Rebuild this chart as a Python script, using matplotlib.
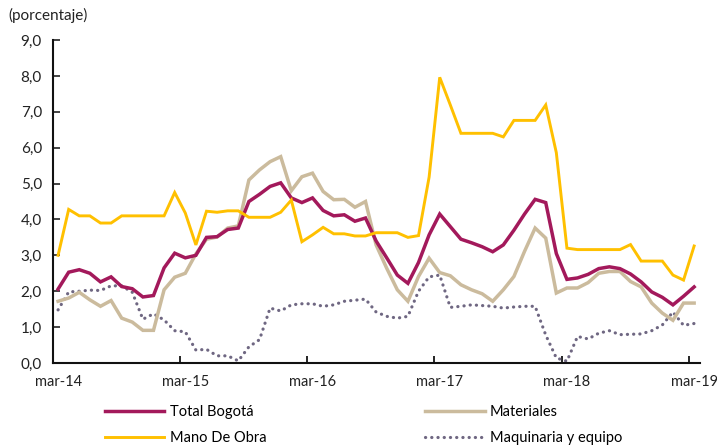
import matplotlib
matplotlib.use("Agg")
import matplotlib.pyplot as plt
import numpy as np

plt.rcParams['font.family'] = ['Lato', 'DejaVu Sans']

tick_labels = ["mar-14", "mar-15", "mar-16", "mar-17", "mar-18", "mar-19"]

total_bogota = [2.06, 2.53, 2.60, 2.50, 2.26, 2.40, 2.13, 2.07, 1.84, 1.88,
                2.65, 3.06, 2.93, 3.00, 3.50, 3.52, 3.72, 3.76, 4.50, 4.70,
                4.92, 5.02, 4.60, 4.47, 4.60, 4.25, 4.10, 4.13, 3.95, 4.04,
                3.40, 2.93, 2.45, 2.22, 2.80, 3.57, 4.15, 3.80, 3.45, 3.35,
                3.24, 3.10, 3.29, 3.70, 4.15, 4.56, 4.47, 3.05, 2.33, 2.37,
                2.47, 2.63, 2.68, 2.63, 2.48, 2.26, 1.98, 1.83, 1.62, 1.86,
                2.12]

materiales = [1.72, 1.81, 1.97, 1.76, 1.58, 1.74, 1.25, 1.14, 0.91, 0.91,
              2.04, 2.39, 2.50, 3.04, 3.45, 3.51, 3.76, 3.82, 5.10, 5.38,
              5.61, 5.75, 4.80, 5.19, 5.29, 4.78, 4.55, 4.56, 4.34, 4.50,
              3.29, 2.64, 2.04, 1.72, 2.41, 2.92, 2.52, 2.43, 2.18, 2.04,
              1.93, 1.72, 2.04, 2.41, 3.11, 3.76, 3.48, 1.95, 2.09, 2.09,
              2.24, 2.50, 2.55, 2.55, 2.27, 2.12, 1.67, 1.39, 1.19, 1.67,
              1.67]

mano_de_obra = [3.00, 4.28, 4.10, 4.10, 3.90, 3.90, 4.10, 4.10, 4.10, 4.10,
                4.10, 4.75, 4.18, 3.29, 4.23, 4.20, 4.24, 4.24, 4.06, 4.06,
                4.06, 4.20, 4.54, 3.38, 3.57, 3.78, 3.60, 3.60, 3.54, 3.54,
                3.63, 3.63, 3.63, 3.50, 3.55, 5.18, 7.96, 7.19, 6.40, 6.40,
                6.40, 6.40, 6.30, 6.76, 6.76, 6.76, 7.19, 5.86, 3.20, 3.16,
                3.16, 3.16, 3.16, 3.16, 3.30, 2.84, 2.84, 2.84, 2.45, 2.31,
                3.26]

maquinaria = [1.48, 1.98, 2.00, 2.03, 2.02, 2.15, 2.15, 1.97, 1.22, 1.37,
              1.20, 0.90, 0.87, 0.36, 0.38, 0.20, 0.20, 0.06, 0.45, 0.65,
              1.53, 1.45, 1.62, 1.65, 1.65, 1.58, 1.62, 1.72, 1.75, 1.78,
              1.42, 1.30, 1.25, 1.30, 2.00, 2.40, 2.45, 1.55, 1.58, 1.62,
              1.60, 1.58, 1.53, 1.56, 1.58, 1.58, 0.78, 0.14, 0.05, 0.74,
              0.67, 0.83, 0.90, 0.79, 0.80, 0.81, 0.90, 1.06, 1.42, 1.05,
              1.10]

x = np.arange(len(total_bogota))

fig = plt.figure(figsize=(7.17, 4.46), dpi=100)
ax = fig.add_axes([0.0739, 0.1861, 0.9025, 0.7242])

ax.plot(x, total_bogota, color="#A3195B", lw=2.5, label="Total Bogotá", zorder=4,
        solid_joinstyle="miter")
ax.plot(x, materiales, color="#CBBB9D", lw=2.5, label="Materiales", zorder=3,
        solid_joinstyle="miter")
ax.plot(x, mano_de_obra, color="#FFC000", lw=2.1, label="Mano De Obra", zorder=5,
        solid_joinstyle="miter")
ax.plot(x, maquinaria, color="#6F6782", lw=2.3, linestyle=(0, (0.05, 1.9)),
        dash_capstyle="round", label="Maquinaria y equipo", zorder=2)

ax.set_xlim(-0.48, 60.56)
ax.set_ylim(0, 9)
ax.set_yticks(np.arange(0, 10, 1))
ax.set_yticklabels([f"{v:.1f}".replace(".", ",") for v in np.arange(0, 10, 1)])
ax.set_xticks(np.arange(0, 61, 12))
ax.set_xticklabels(tick_labels)
ax.set_xticks(np.arange(11.5, 61, 12), minor=True)

ax.tick_params(axis="y", direction="in", length=5, width=1.2, labelsize=11,
               pad=8, colors="#222222")
ax.tick_params(axis="x", which="major", length=0, labelsize=10.5, pad=9,
               colors="#222222")
ax.tick_params(axis="x", which="minor", direction="in", length=5, width=1.2)

for s in ["top", "right"]:
    ax.spines[s].set_visible(False)
for s in ["left", "bottom"]:
    ax.spines[s].set_linewidth(1.5)
    ax.spines[s].set_color("#111111")

fig.text(0.011, 0.965, "(porcentaje)", fontsize=11, color="#222222",
         ha="left", va="center")

handles, labels = ax.get_legend_handles_labels()
order = [0, 2, 1, 3]
fig.legend([handles[i] for i in order], [labels[i] for i in order],
           loc="upper left", bbox_to_anchor=(0.146, 0.092), ncol=2,
           frameon=False, fontsize=10.5, handlelength=4.1, handletextpad=0.35,
           columnspacing=10.9, labelspacing=0.8, borderaxespad=0,
           borderpad=0)

fig.savefig("out.png", dpi=100)
